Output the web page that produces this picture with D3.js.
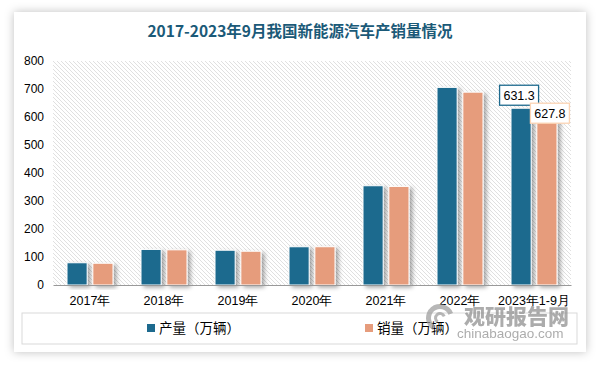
<!DOCTYPE html>
<html>
<head>
<meta charset="utf-8">
<script src="https://cdn.jsdelivr.net/npm/d3@7"></script>
<style>
  body { margin: 0; background: #fff; }
  svg { display: block; font-family: "Liberation Sans", "Noto Sans CJK SC", sans-serif; }
</style>
</head>
<body>
<div id="chart"></div>
<script>
const years = ["2017年", "2018年", "2019年", "2020年", "2021年", "2022年", "2023年1-9月"];
const production = [79.4, 127, 124.2, 136.6, 354.5, 705.8, 631.3];
const sales = [77.7, 125.6, 120.6, 136.7, 352.1, 688.7, 627.8];
const seriesNames = ["产量（万辆）", "销量（万辆）"];
const yTicks = [0, 100, 200, 300, 400, 500, 600, 700, 800];

const width = 600,
      height = 365,
      margin = { top: 61, right: 29, bottom: 80, left: 53 };

const colors = ["#1d6a8e", "#e69c7c"];

const svg = d3.select("#chart")
  .append("svg")
  .attr("width", width)
  .attr("height", height);

const defs = svg.append("defs");

// card shadow
const cardShadow = defs.append("filter").attr("id", "card-shadow")
  .attr("x", "-5%").attr("y", "-5%").attr("width", "110%").attr("height", "110%");
cardShadow.append("feDropShadow")
  .attr("dx", 0).attr("dy", 0).attr("stdDeviation", 5)
  .attr("flood-color", "#000").attr("flood-opacity", 0.25);

// bar shadow
const barShadow = defs.append("filter").attr("id", "bar-shadow")
  .attr("x", "-30%").attr("y", "-10%").attr("width", "170%").attr("height", "130%");
barShadow.append("feDropShadow")
  .attr("dx", 3).attr("dy", 2).attr("stdDeviation", 2)
  .attr("flood-color", "#000").attr("flood-opacity", 0.35);

// hatched plot background
const hatch = defs.append("pattern")
  .attr("id", "hatch")
  .attr("patternUnits", "userSpaceOnUse")
  .attr("width", 4).attr("height", 4);
hatch.append("rect").attr("width", 4).attr("height", 4).attr("fill", "#fff");
hatch.append("path")
  .attr("d", "M-1,-1 L5,5 M-1,3 L1,5 M3,-1 L5,1")
  .attr("stroke", "#dcdcdc")
  .attr("stroke-width", 0.9);

// card
svg.append("rect")
  .attr("x", 14).attr("y", 12)
  .attr("width", 572).attr("height", 340)
  .attr("fill", "#fff")
  .attr("filter", "url(#card-shadow)");

// Title
svg.append("text")
  .attr("x", 300)
  .attr("y", 37)
  .attr("text-anchor", "middle")
  .style("font-family", "'Noto Sans CJK SC', sans-serif")
  .style("font-size", "15.5px")
  .style("font-weight", "bold")
  .attr("fill", "#1b5a78")
  .text("2017-2023年9月我国新能源汽车产销量情况");

const x = d3.scaleBand()
  .domain(years)
  .range([margin.left, width - margin.right]);

const x1 = d3.scaleBand()
  .domain(seriesNames)
  .range([-23, 23])
  .paddingInner(0.22);

const y = d3.scaleLinear()
  .domain([0, 800])
  .range([height - margin.bottom, margin.top]);

svg.append("rect")
  .attr("x", margin.left)
  .attr("y", y(800))
  .attr("width", x.range()[1] - x.range()[0])
  .attr("height", y(0) - y(800))
  .attr("fill", "url(#hatch)");

// Y-axis labels
const yAxis = svg.append("g")
  .attr("transform", `translate(${margin.left - 9},0)`)
  .call(d3.axisLeft(y).tickValues(yTicks).tickSize(0).tickPadding(0));
yAxis.select(".domain").remove();
yAxis.selectAll("text")
  .style("font-size", "12px")
  .attr("fill", "#000");

// Bars
const rows = years.map((yr, i) => ({ year: yr, values: [production[i], sales[i]] }));

const groups = svg.append("g")
  .selectAll("g")
  .data(rows)
  .join("g")
  .attr("transform", d => `translate(${x(d.year) + x.bandwidth() / 2},0)`);

groups.selectAll("rect")
  .data(d => d.values.map((v, k) => ({ key: seriesNames[k], value: v, k })))
  .join("rect")
  .attr("x", d => x1(d.key))
  .attr("y", d => y(d.value))
  .attr("width", x1.bandwidth())
  .attr("height", d => y(0) - y(d.value))
  .attr("fill", d => colors[d.k])
  .attr("stroke", "#fff")
  .attr("stroke-width", 1)
  .attr("filter", "url(#bar-shadow)");

// X-axis
const xAxis = svg.append("g")
  .attr("transform", `translate(0,${y(0)})`)
  .call(d3.axisBottom(x).tickSize(0).tickPadding(11));
xAxis.select(".domain").attr("stroke", "#999").attr("stroke-width", 1.2);
xAxis.selectAll("text")
  .style("font-size", "12.5px")
  .attr("fill", "#000");

// Data labels for the last group
const last = years.length - 1;
const labelSpecs = [
  { k: 0, value: production[last], dx: -2, dy: -13, stroke: "#1d6a8e" },
  { k: 1, value: sales[last], dx: 3, dy: 4, stroke: "#fbd4b4" }
];
labelSpecs.forEach(s => {
  const cx = x(years[last]) + x.bandwidth() / 2 + x1(seriesNames[s.k]) + x1.bandwidth() / 2 + s.dx;
  const cy = y(s.value) + s.dy;
  svg.append("rect")
    .attr("x", cx - 19.5).attr("y", cy - 10)
    .attr("width", 39).attr("height", 20)
    .attr("fill", "#fff")
    .attr("stroke", s.stroke)
    .attr("stroke-width", 1.3);
  svg.append("text")
    .attr("x", cx).attr("y", cy + 4.5)
    .attr("text-anchor", "middle")
    .style("font-size", "12.5px")
    .attr("fill", "#000")
    .text(s.value.toFixed(1));
});

// Legend
svg.append("rect")
  .attr("x", 22).attr("y", 313)
  .attr("width", 555).attr("height", 31)
  .attr("fill", "none")
  .attr("stroke", "#d9d9d9")
  .attr("stroke-width", 1);

const legendX = [147, 365];
seriesNames.forEach((name, i) => {
  svg.append("rect")
    .attr("x", legendX[i]).attr("y", 324)
    .attr("width", 8).attr("height", 8)
    .attr("fill", colors[i]);
  svg.append("text")
    .attr("x", legendX[i] + 12).attr("y", 333)
    .style("font-family", "'Noto Sans CJK SC', sans-serif")
    .style("font-size", "13.5px")
    .attr("fill", "#000")
    .text(name);
});

// Watermark
const wm = svg.append("g").attr("opacity", 0.7);
wm.append("path")
  .attr("d", d3.arc()({ innerRadius: 9, outerRadius: 14, startAngle: -2.6, endAngle: 1.2 }))
  .attr("transform", "translate(440,318)")
  .attr("fill", "#9a9a9a");
wm.append("path")
  .attr("d", d3.arc()({ innerRadius: 3, outerRadius: 6, startAngle: -2.6, endAngle: 1.2 }))
  .attr("transform", "translate(440,318)")
  .attr("fill", "#9a9a9a");
wm.append("text")
  .attr("x", 464).attr("y", 324)
  .style("font-family", "'Noto Sans CJK SC', sans-serif")
  .style("font-size", "21px")
  .style("font-weight", "900")
  .attr("fill", "#8a8a8a")
  .text("观研报告网");
wm.append("text")
  .attr("x", 457).attr("y", 338)
  .style("font-size", "13.5px")
  .attr("fill", "#8a8a8a")
  .text("chinabaogao.com");
</script>
</body>
</html>
